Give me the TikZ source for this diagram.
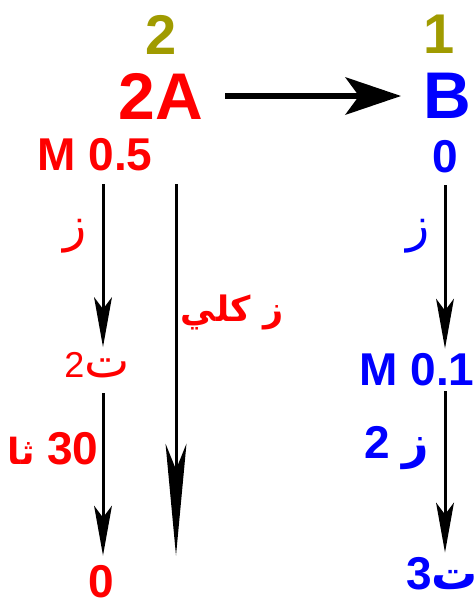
\documentclass[tikz,border=0pt]{standalone}
\usepackage{fontspec}
\setmainfont{Liberation Sans}
\newfontfamily\arabicfont[Script=Arabic]{DejaVu Sans}
\TeXXeTstate=1
\usetikzlibrary{arrows.meta}
\definecolor{olv}{RGB}{160,155,0}
\definecolor{rd}{RGB}{255,0,0}
\definecolor{bl}{RGB}{0,0,255}

\begin{document}
\begin{tikzpicture}[x=1pt,y=1pt,
  num/.style={inner sep=0pt,font=\bfseries\fontsize{56}{56}\selectfont,text=olv},
  big/.style={inner sep=0pt,font=\bfseries\fontsize{66}{66}\selectfont},
  lbl/.style={inner sep=0pt,font=\bfseries\fontsize{46}{46}\selectfont},
  ar/.style={inner sep=0pt,font=\arabicfont\fontsize{48}{48}\selectfont},
  arb/.style={inner sep=0pt,font=\arabicfont\bfseries\fontsize{35}{35}\selectfont},
  harrow/.style={line width=6pt,-{Stealth[length=56pt,width=38pt,inset=14pt,line width=0pt]}},
  vline/.style={line width=3pt,-{Stealth[length=50pt,width=18pt,inset=12pt,line width=0pt]}},
  longline/.style={line width=3pt,-{Stealth[length=112pt,width=21pt,inset=26pt,line width=0pt]}}]
\useasboundingbox (0,0) rectangle (475,-605);
\def\rl#1{\beginR#1\endR}

% columns of the arrows
\coordinate (colA) at (103,0);
\coordinate (colM) at (176,0);
\coordinate (colB) at (445,0);

% reaction
\node[num] (nA) at (161,-35) {2};
\node[num] (nB) at (439,-34) {1};
\node[big,text=rd] (sA) at (161,-96) {2A};
\node[big,text=bl] (sB) at (447,-96) {B};
\draw[harrow,shorten <=22pt,shorten >=22pt] (sA) -- (sB);

% left side
\node[lbl,text=rd] (mA) at (95,-155) {M 0.5};
\node[ar,text=rd] (zA1) at (75,-236) {\rl{ز}};
\node[ar,text=rd] (tA) at (97,-365) {\rl{ت\beginL{\fontsize{36}{36}\selectfont\rmfamily 2}\endL}};
\node[lbl,text=rd] (hA) at (53,-449) {\rl{\beginL 30\endL{} {\arabicfont\fontsize{36}{36}\selectfont ثا}}};
\node[lbl,text=rd] (oA) at (101,-582) {0};
\node[arb,text=rd] (zk) at (232,-312) {\rl{ز كلي}};

\draw[vline,shorten <=13pt,shorten >=5pt] (mA.south -| colA) -- (tA.north -| colA);
\draw[vline,shorten <=15pt,shorten >=10pt] (tA.south -| colA) -- (oA.north -| colA);
\draw[longline,shorten <=13pt,shorten >=10pt] (mA.south -| colM) -- (oA.north -| colM);

% right side
\node[lbl,text=bl] (oB) at (445,-157) {0};
\node[ar,text=bl] (zB1) at (418,-236) {\rl{ز}};
\node[lbl,text=bl] (mB) at (417,-370) {M 0.1};
\node[lbl,text=bl] (zB2) at (397,-448) {\rl{{\arabicfont ز} \beginL 2\endL}};
\node[lbl,text=bl] (tB) at (442,-574) {\rl{{\arabicfont ت}\beginL 3\endL}};

\draw[vline,shorten <=12pt,shorten >=5pt] (oB.south -| colB) -- (mB.north -| colB);
\draw[vline,shorten <=5pt,shorten >=5pt] (mB.south -| colB) -- (tB.north -| colB);
\end{tikzpicture}
\end{document}
